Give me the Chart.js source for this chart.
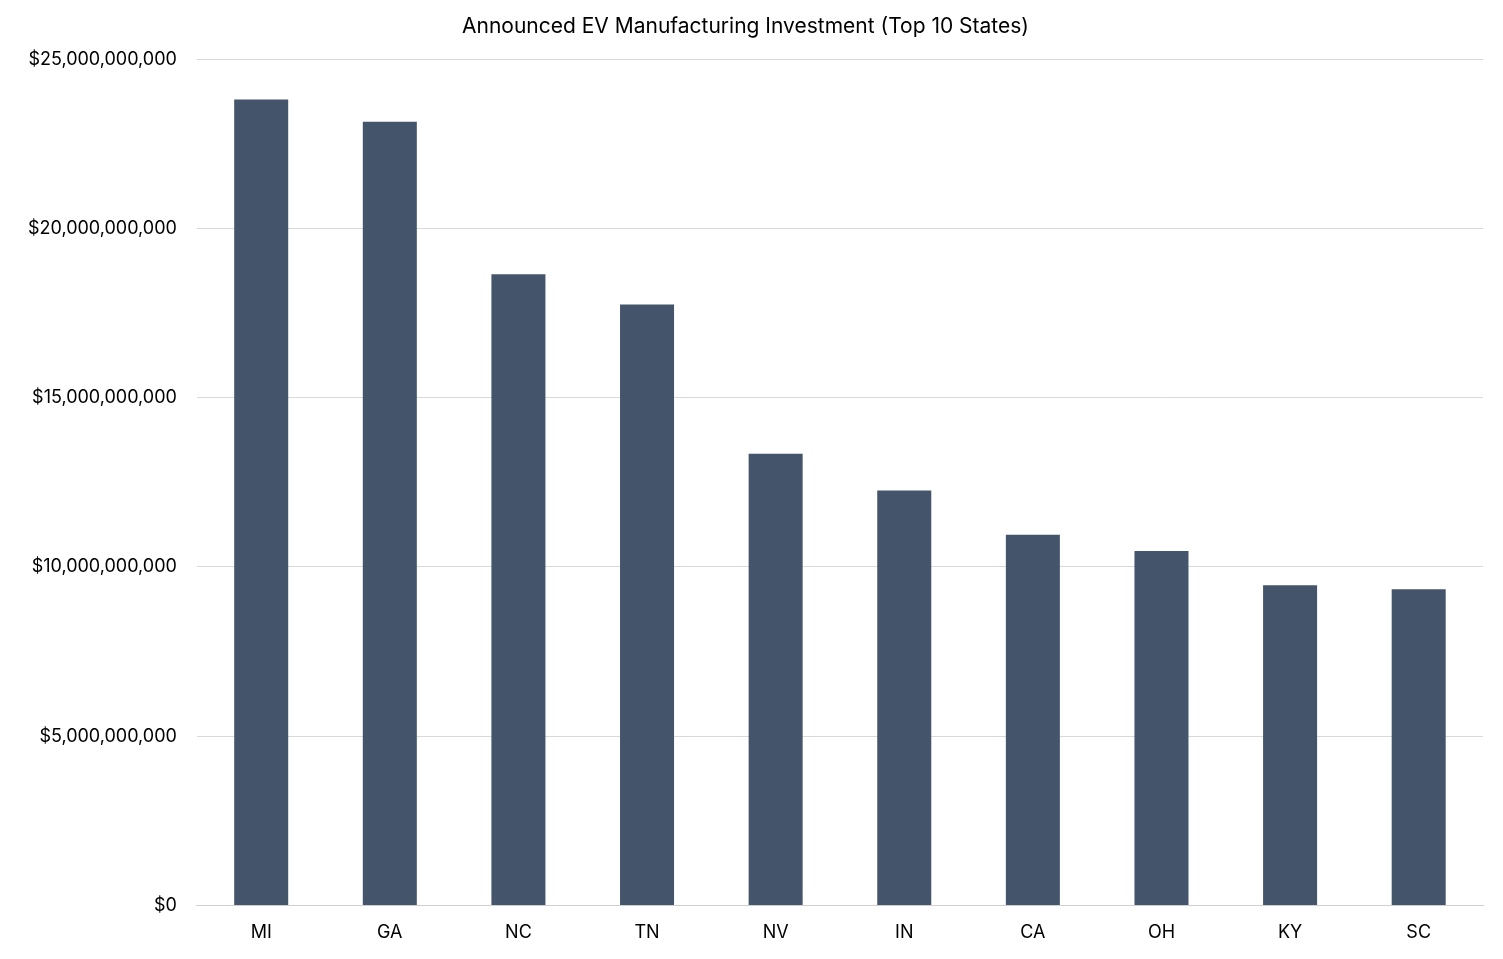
<!DOCTYPE html>
<html><head><meta charset="utf-8">
<script src="https://cdn.jsdelivr.net/npm/chart.js@4/dist/chart.umd.min.js"></script>
<style>html,body{margin:0;padding:0;background:#fff}#w{width:1503px;height:959px}</style>
</head><body><div id="w"><canvas id="c"></canvas></div>
<script>
const categories=["MI","GA","NC","TN","NV","IN","CA","OH","KY","SC"];
const investment=[23810000000,23150000000,18650000000,17750000000,13340000000,12260000000,10950000000,10470000000,9460000000,9340000000];
const yTicks=[0,5e9,10e9,15e9,20e9,25e9];
const fmt=v=>"$"+v.toLocaleString("en-US");
new Chart(document.getElementById("c"),{type:"bar",
data:{labels:categories,datasets:[{data:investment,backgroundColor:"#44546a",barPercentage:0.42,categoryPercentage:1}]},
options:{responsive:true,maintainAspectRatio:false,animation:false,
layout:{padding:{left:8,right:20,top:6,bottom:8}},
plugins:{legend:{display:false},tooltip:{enabled:false},
title:{display:true,text:"Announced EV Manufacturing Investment (Top 10 States)",color:"#000",font:{family:"Inter",size:21,weight:"normal"},padding:{top:8,bottom:20}}},
scales:{x:{grid:{display:false},border:{color:"#d0d0d0"},ticks:{color:"#000",font:{family:"Inter",size:18},padding:8}},
y:{min:0,max:25e9,afterBuildTicks:a=>{a.ticks=yTicks.map(v=>({value:v}))},
grid:{color:"#d9d9d9",drawTicks:false},border:{display:false},
ticks:{color:"#000",font:{family:"Inter",size:18},padding:20,callback:v=>fmt(v)}}}}});
</script></body></html>
